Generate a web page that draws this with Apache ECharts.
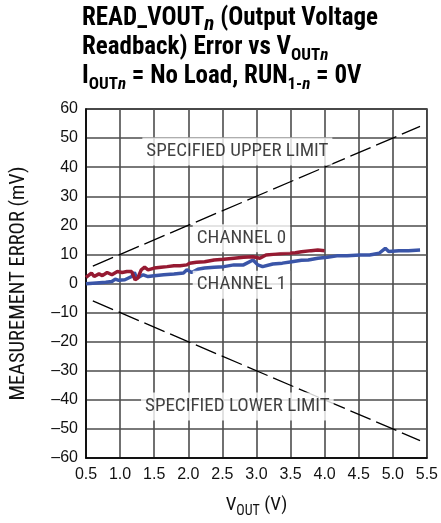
<!DOCTYPE html>
<html>
<head>
<meta charset="utf-8">
<script src="https://cdn.jsdelivr.net/npm/echarts@6/dist/echarts.min.js"></script>
<style>html,body{margin:0;padding:0;background:#fff}#c{width:441px;height:523px}</style>
</head>
<body>
<div id="c"></div>
<script>
var NARROW = '"Roboto Condensed", "Liberation Sans", Arial, sans-serif';
var REG = '"Liberation Sans", Arial, sans-serif';

var xTicks = [0.5, 1.0, 1.5, 2.0, 2.5, 3.0, 3.5, 4.0, 4.5, 5.0, 5.5];
var yTicks = [-60, -50, -40, -30, -20, -10, 0, 10, 20, 30, 40, 50, 60];

var ch0 = [[0.5,2.1],[0.58,3.6],[0.62,2.4],[0.69,3.3],[0.74,2.7],[0.81,3.8],[0.88,3.0],[0.96,4.1],[1.03,3.8],[1.1,4.1],[1.17,4.1],[1.22,1.3],[1.26,1.9],[1.31,4.7],[1.36,5.6],[1.41,4.7],[1.5,5.3],[1.6,5.6],[1.69,5.8],[1.79,6.1],[1.88,6.1],[1.98,6.4],[2.02,7.0],[2.12,7.3],[2.24,7.5],[2.38,8.1],[2.52,8.3],[2.67,8.7],[2.81,9.0],[2.95,9.2],[3.05,8.7],[3.14,9.8],[3.28,10.1],[3.42,10.4],[3.57,10.6],[3.66,10.9],[3.8,11.3],[3.9,11.5],[4.0,11.3]];
var ch1 = [[0.5,-0.1],[0.65,0.2],[0.79,0.4],[0.88,0.7],[0.93,1.5],[0.98,1.1],[1.07,1.3],[1.17,2.4],[1.21,3.8],[1.24,1.9],[1.29,2.4],[1.34,3.0],[1.41,2.4],[1.5,2.7],[1.64,3.0],[1.79,3.3],[1.93,3.6],[1.98,4.7],[2.05,3.8],[2.14,4.9],[2.24,5.3],[2.38,5.6],[2.52,5.8],[2.67,6.4],[2.81,6.4],[2.95,8.1],[3.02,6.4],[3.09,5.8],[3.24,6.7],[3.38,7.0],[3.52,7.5],[3.66,8.0],[3.76,8.1],[3.9,8.7],[4.04,9.0],[4.18,9.5],[4.33,9.5],[4.52,9.8],[4.66,9.8],[4.8,10.4],[4.89,12.1],[4.94,11.0],[5.09,11.3],[5.23,11.3],[5.4,11.5]];
var upperLimit = [[0.6,6],[5.4,54]];
var lowerLimit = [[0.6,-6],[5.4,-54]];

var annotText = ['SPECIFIED UPPER LIMIT', 'CHANNEL 0', 'CHANNEL 1', 'SPECIFIED LOWER LIMIT'];
var annotX = [2.72, 2.78, 2.78, 2.72];
var annotY = [45.4, 15.6, -0.4, -42.3];

var annotData = annotText.map(function (t, i) { return [annotX[i], annotY[i], t]; });

var chart = echarts.init(document.getElementById('c'), null, {renderer: 'canvas'});
chart.setOption({
  animation: false,
  backgroundColor: '#fff',
  title: {
    left: 77, top: 1,
    text: '{b|READ_VOUT}{bi|n}{b| (Output Voltage}\n{b|Readback) Error vs V}{s|OUT}{si|n}\n{b|I}{s|OUT}{si|n}{b| = No Load, RUN}{s|1-}{si|n}{b| = 0V}',
    textStyle: {
      rich: {
        b: {fontFamily: NARROW, fontWeight: 'bold', fontSize: 25, lineHeight: 29, color: '#000', verticalAlign: 'top'},
        bi: {fontFamily: NARROW, fontWeight: 'bold', fontStyle: 'italic', fontSize: 21, lineHeight: 25, color: '#000', verticalAlign: 'bottom'},
        s: {fontFamily: NARROW, fontWeight: 'bold', fontSize: 17, lineHeight: 11, color: '#000', verticalAlign: 'bottom'},
        si: {fontFamily: NARROW, fontWeight: 'bold', fontStyle: 'italic', fontSize: 17, lineHeight: 11, color: '#000', verticalAlign: 'bottom'}
      }
    }
  },
  grid: {left: 78, right: 12, top: 109, bottom: 61, show: true, borderColor: '#000', borderWidth: 1.5, backgroundColor: 'transparent'},
  xAxis: {
    type: 'value', min: 0.5, max: 5.5, interval: 0.5,
    axisLine: {show: true, onZero: false, lineStyle: {color: '#000', width: 1.5}},
    axisTick: {show: false},
    splitLine: {show: true, lineStyle: {color: '#4d4d4d', width: 1.6}},
    axisLabel: {fontFamily: REG, fontSize: 16, color: '#111', margin: 9, formatter: function (v) { return v.toFixed(1); }},
    name: '{n|V}{s|OUT}{n| (V)}', nameLocation: 'middle', nameGap: 38,
    nameTextStyle: {rich: {
      n: {fontFamily: NARROW, fontSize: 19, color: '#111', lineHeight: 22, verticalAlign: 'top'},
      s: {fontFamily: NARROW, fontSize: 14, color: '#111', lineHeight: 10, verticalAlign: 'bottom'}
    }}
  },
  yAxis: {
    type: 'value', min: -60, max: 60, interval: 10,
    axisLine: {show: true, onZero: false, lineStyle: {color: '#000', width: 1.5}},
    axisTick: {show: false},
    splitLine: {show: true, lineStyle: {color: '#4d4d4d', width: 1.6}},
    axisLabel: {fontFamily: REG, fontSize: 16, color: '#111', margin: 8, formatter: function (v) { return v < 0 ? '\u2013' + Math.abs(v) : String(v); }},
    name: 'MEASUREMENT ERROR (mV)', nameLocation: 'middle', nameGap: 57, nameRotate: 90,
    nameTextStyle: {fontFamily: NARROW, fontSize: 20.5, color: '#111'}
  },
  series: [
    {type: 'line', data: upperLimit, symbol: 'none', lineStyle: {color: '#000', width: 1.3, type: [22, 6]}, z: 2},
    {type: 'line', data: lowerLimit, symbol: 'none', lineStyle: {color: '#000', width: 1.3, type: [22, 6]}, z: 2},
    {type: 'line', data: ch1, symbol: 'none', lineStyle: {color: '#3a55a8', width: 3.5}, z: 3},
    {type: 'line', data: ch0, symbol: 'none', lineStyle: {color: '#961a32', width: 3.5}, z: 4},
    {type: 'scatter', data: annotData, symbolSize: 0, z: 10, silent: true,
      label: {show: true, position: 'inside', formatter: function (p) { return p.data[2]; },
        fontFamily: NARROW, fontSize: 19, color: '#111', backgroundColor: '#fff', padding: [5, 4, 4, 4]}}
  ]
});
</script>
</body>
</html>
